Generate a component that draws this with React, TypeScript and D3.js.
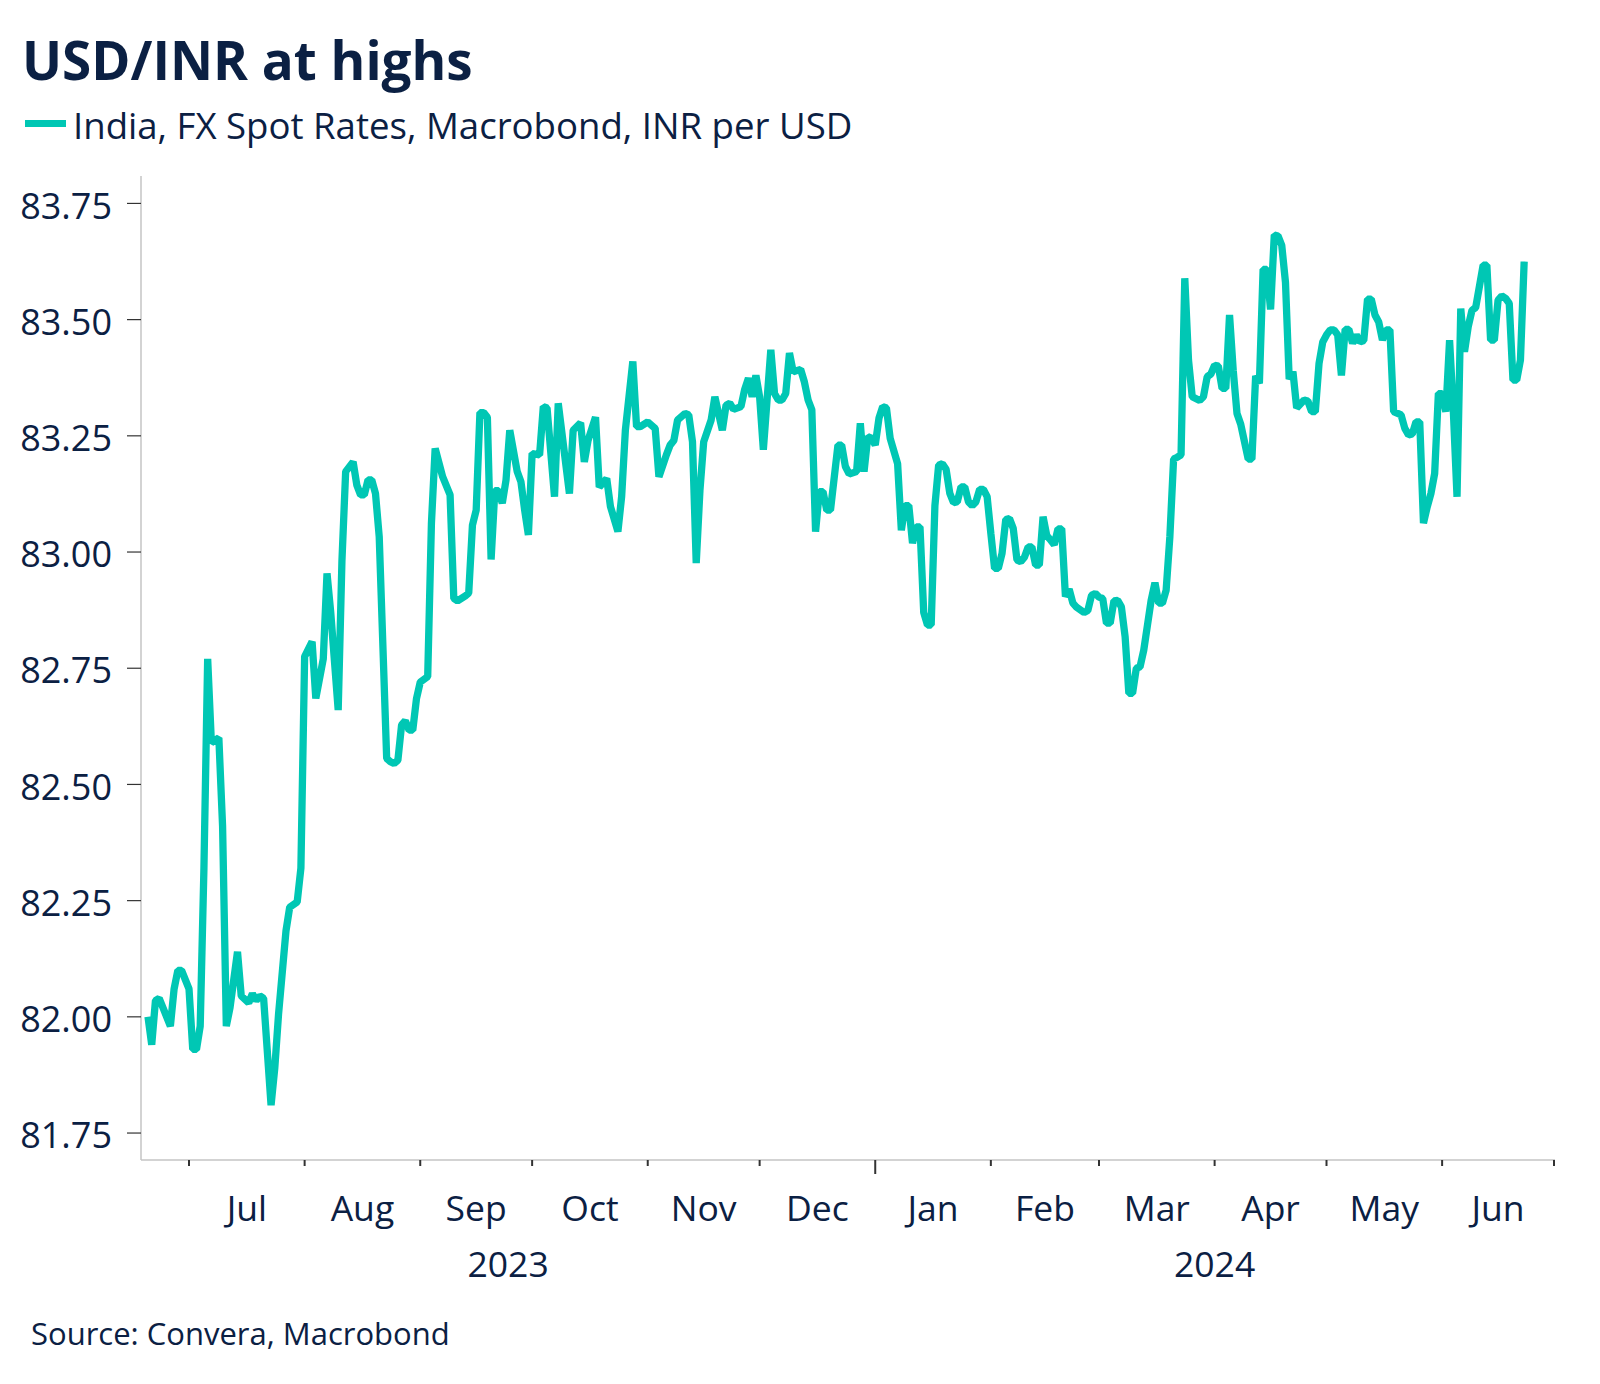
import React from "react";
import * as d3 from "d3";

const TITLE = "USD/INR at highs";
const LEGEND = "India, FX Spot Rates, Macrobond, INR per USD";
const SOURCE = "Source: Convera, Macrobond";
const yTicks = [81.75, 82.0, 82.25, 82.5, 82.75, 83.0, 83.25, 83.5, 83.75];
const yearLabels = ["2023", "2024"];

const dates = [
  "2023-06-20","2023-06-21","2023-06-22","2023-06-23","2023-06-26","2023-06-27","2023-06-28","2023-06-29",
  "2023-07-01","2023-07-02","2023-07-03","2023-07-04","2023-07-05","2023-07-06","2023-07-07","2023-07-09",
  "2023-07-10","2023-07-11","2023-07-12","2023-07-14","2023-07-15","2023-07-17","2023-07-18","2023-07-19",
  "2023-07-20","2023-07-21","2023-07-23","2023-07-24","2023-07-25","2023-07-27","2023-07-28","2023-07-30",
  "2023-07-31","2023-08-01","2023-08-03","2023-08-04","2023-08-06","2023-08-07","2023-08-08","2023-08-10",
  "2023-08-11","2023-08-12","2023-08-14","2023-08-15","2023-08-16","2023-08-17","2023-08-18","2023-08-19",
  "2023-08-20","2023-08-21","2023-08-23","2023-08-24","2023-08-25","2023-08-26","2023-08-27","2023-08-28",
  "2023-08-29","2023-08-30","2023-08-31","2023-09-01","2023-09-03","2023-09-04","2023-09-05","2023-09-07",
  "2023-09-09","2023-09-10","2023-09-11","2023-09-13","2023-09-14","2023-09-15","2023-09-16","2023-09-17",
  "2023-09-18","2023-09-19","2023-09-20","2023-09-21","2023-09-22","2023-09-23","2023-09-24","2023-09-25",
  "2023-09-27","2023-09-28","2023-09-29","2023-09-30","2023-10-01","2023-10-03","2023-10-04","2023-10-05",
  "2023-10-07","2023-10-08","2023-10-11","2023-10-12","2023-10-14","2023-10-15","2023-10-16","2023-10-18",
  "2023-10-19","2023-10-21","2023-10-22","2023-10-24","2023-10-25","2023-10-26","2023-10-28","2023-10-29",
  "2023-10-30","2023-11-01","2023-11-02","2023-11-03","2023-11-04","2023-11-06","2023-11-07","2023-11-08",
  "2023-11-09","2023-11-11","2023-11-12","2023-11-13","2023-11-14","2023-11-15","2023-11-16","2023-11-18",
  "2023-11-19","2023-11-21","2023-11-22","2023-11-23","2023-11-24","2023-11-26","2023-11-27","2023-11-28",
  "2023-11-29","2023-11-30","2023-12-01","2023-12-02","2023-12-04","2023-12-05","2023-12-06","2023-12-07",
  "2023-12-08","2023-12-09","2023-12-10","2023-12-12","2023-12-13","2023-12-14","2023-12-15","2023-12-16",
  "2023-12-17","2023-12-18","2023-12-19","2023-12-20","2023-12-22","2023-12-23","2023-12-24","2023-12-25",
  "2023-12-27","2023-12-28","2023-12-29","2023-12-30","2023-12-31","2024-01-01","2024-01-02","2024-01-03",
  "2024-01-04","2024-01-05","2024-01-07","2024-01-08","2024-01-09","2024-01-10","2024-01-11","2024-01-12",
  "2024-01-13","2024-01-14","2024-01-15","2024-01-16","2024-01-17","2024-01-18","2024-01-19","2024-01-20",
  "2024-01-21","2024-01-22","2024-01-23","2024-01-24","2024-01-25","2024-01-26","2024-01-27","2024-01-28",
  "2024-01-29","2024-01-30","2024-01-31","2024-02-01","2024-02-02","2024-02-03","2024-02-04","2024-02-05",
  "2024-02-06","2024-02-07","2024-02-08","2024-02-09","2024-02-10","2024-02-11","2024-02-12","2024-02-13",
  "2024-02-14","2024-02-15","2024-02-16","2024-02-17","2024-02-18","2024-02-19","2024-02-20","2024-02-21",
  "2024-02-22","2024-02-23","2024-02-24","2024-02-26","2024-02-27","2024-02-28","2024-02-29","2024-03-01",
  "2024-03-02","2024-03-03","2024-03-04","2024-03-05","2024-03-06","2024-03-07","2024-03-08","2024-03-09",
  "2024-03-10","2024-03-11","2024-03-12","2024-03-13","2024-03-14","2024-03-15","2024-03-16","2024-03-17",
  "2024-03-18","2024-03-19","2024-03-20","2024-03-21","2024-03-22","2024-03-23","2024-03-24","2024-03-25",
  "2024-03-26","2024-03-28","2024-03-29","2024-03-30","2024-03-31","2024-04-01","2024-04-02","2024-04-03",
  "2024-04-04","2024-04-05","2024-04-06","2024-04-07","2024-04-08","2024-04-10","2024-04-11","2024-04-12",
  "2024-04-13","2024-04-14","2024-04-15","2024-04-16","2024-04-17","2024-04-18","2024-04-19","2024-04-20",
  "2024-04-21","2024-04-22","2024-04-23","2024-04-25","2024-04-26","2024-04-27","2024-04-28","2024-04-29",
  "2024-04-30","2024-05-01","2024-05-02","2024-05-03","2024-05-04","2024-05-05","2024-05-06","2024-05-07",
  "2024-05-08","2024-05-09","2024-05-10","2024-05-11","2024-05-12","2024-05-13","2024-05-14","2024-05-15",
  "2024-05-16","2024-05-17","2024-05-18","2024-05-19","2024-05-21","2024-05-22","2024-05-23","2024-05-24",
  "2024-05-25","2024-05-26","2024-05-27","2024-05-28","2024-05-29","2024-05-30","2024-05-31","2024-06-01",
  "2024-06-02","2024-06-03","2024-06-04","2024-06-05","2024-06-06","2024-06-07","2024-06-08","2024-06-09",
  "2024-06-10","2024-06-12","2024-06-13","2024-06-14","2024-06-15","2024-06-16","2024-06-17","2024-06-18",
  "2024-06-19","2024-06-20","2024-06-21","2024-06-22","2024-06-23"
];

const rates = [
  82.00,81.94,82.035,82.04,81.98,82.06,82.10,82.10,
  82.06,81.93,81.93,81.98,82.32,82.77,82.59,82.60,
  82.41,81.98,82.02,82.14,82.045,82.03,82.05,82.035,
  82.045,82.04,81.81,81.89,82.005,82.185,82.236,82.247,
  82.32,82.775,82.807,82.685,82.77,82.954,82.87,82.66,
  82.98,83.173,83.194,83.144,83.123,83.123,83.155,83.155,
  83.126,83.033,82.556,82.549,82.545,82.552,82.628,82.637,
  82.617,82.617,82.685,82.72,82.732,83.062,83.223,83.162,
  83.123,82.90,82.895,82.905,82.912,83.058,83.09,83.30,
  83.30,83.29,82.984,83.132,83.132,83.105,83.155,83.262,
  83.173,83.151,83.09,83.037,83.212,83.209,83.313,83.31,
  83.119,83.32,83.126,83.262,83.278,83.194,83.24,83.29,
  83.14,83.158,83.098,83.044,83.119,83.262,83.41,83.27,
  83.27,83.28,83.273,83.266,83.162,83.209,83.23,83.24,
  83.284,83.298,83.295,83.237,82.976,83.133,83.237,83.284,
  83.334,83.262,83.316,83.32,83.307,83.313,83.35,83.374,
  83.334,83.38,83.334,83.22,83.435,83.341,83.327,83.327,
  83.341,83.428,83.388,83.393,83.366,83.327,83.306,83.044,
  83.13,83.13,83.09,83.09,83.23,83.23,83.184,83.168,
  83.173,83.277,83.173,83.248,83.245,83.23,83.288,83.313,
  83.31,83.245,83.19,83.047,83.10,83.10,83.019,83.054,
  83.054,82.87,82.843,82.843,83.10,83.187,83.19,83.178,
  83.126,83.106,83.108,83.14,83.14,83.108,83.10,83.108,
  83.135,83.135,83.119,83.04,82.965,82.965,82.997,83.07,
  83.072,83.051,82.983,82.979,82.989,83.011,83.011,82.972,
  82.972,83.076,83.035,83.026,83.016,83.05,83.05,82.904,
  82.92,82.89,82.881,82.87,82.874,82.907,82.911,82.903,
  82.90,82.847,82.847,82.895,82.896,82.882,82.818,82.696,
  82.696,82.75,82.753,82.789,82.843,82.897,82.934,82.89,
  82.89,82.918,83.033,83.20,83.204,83.209,83.589,83.413,
  83.334,83.326,83.334,83.377,83.383,83.402,83.40,83.352,
  83.352,83.51,83.39,83.298,83.275,83.20,83.20,83.379,
  83.363,83.608,83.608,83.522,83.682,83.68,83.66,83.58,
  83.372,83.388,83.31,83.327,83.325,83.302,83.302,83.406,
  83.452,83.467,83.478,83.478,83.467,83.38,83.479,83.479,
  83.449,83.467,83.452,83.455,83.544,83.544,83.51,83.495,
  83.456,83.478,83.478,83.302,83.295,83.266,83.252,83.254,
  83.28,83.28,83.062,83.097,83.126,83.169,83.341,83.341,
  83.302,83.456,83.305,83.119,83.524,83.431,83.485,83.52,
  83.526,83.617,83.617,83.456,83.456,83.542,83.551,83.546,
  83.535,83.37,83.37,83.413,83.625
];

const NAVY = "#0b2043";
const TEAL = "#00c7b4";
const FONT = "'Open Sans', 'Noto Sans', sans-serif";

export default function App() {
  const parse = d3.timeParse("%Y-%m-%d");
  const data = dates.map((d, i) => ({ date: parse(d) as Date, value: rates[i] }));

  const xStart = new Date(2023, 5, 18, 3);
  const xEnd = new Date(2024, 6, 1);
  const x = d3.scaleTime().domain([xStart, xEnd]).range([141, 1554]);
  const y = d3.scaleLinear().domain([81.692, 83.809]).range([1160, 176]);

  const line = d3
    .line<{ date: Date; value: number }>()
    .x((d) => x(d.date))
    .y((d) => y(d.value));

  const monthTicks = d3.timeMonth.range(new Date(2023, 6, 1), new Date(2024, 6, 2));
  const monthLabels = monthTicks.slice(0, -1).map((m, i) => ({
    label: d3.timeFormat("%b")(m),
    cx: (x(m) + x(monthTicks[i + 1])) / 2,
  }));
  const yearBoundary = new Date(2024, 0, 1);
  const yearPos = [
    (x(xStart) + x(yearBoundary)) / 2,
    (x(yearBoundary) + x(xEnd)) / 2,
  ];

  return (
    <svg
      width={1600}
      height={1384}
      style={{ position: "absolute", left: 0, top: 0, background: "#fff" }}
      fontFamily={FONT}
    >
      <rect x={0} y={0} width={1600} height={1384} fill="#fff" />
      <text x={22} y={80} fontSize={53} fontWeight={700} fill={NAVY}>
        {TITLE}
      </text>
      <rect x={25} y={120} width={41} height={7} fill={TEAL} />
      <text x={73} y={139} fontSize={36.6} fill={NAVY}>
        {LEGEND}
      </text>

      {/* axes */}
      <line x1={141} x2={141} y1={176} y2={1160} stroke="#c4c4c4" strokeWidth={1.5} />
      <line x1={141} x2={1555} y1={1160} y2={1160} stroke="#c4c4c4" strokeWidth={1.5} />

      {yTicks.map((t) => (
        <g key={t}>
          <line x1={127} x2={141} y1={y(t)} y2={y(t)} stroke="#333" strokeWidth={1.2} />
          <text x={112} y={y(t)} dy="0.42em" textAnchor="end" fontSize={36} fill={NAVY}>
            {t.toFixed(2)}
          </text>
        </g>
      ))}

      {monthTicks.map((m) => {
        const isYear = m.getMonth() === 0;
        return (
          <line
            key={m.toISOString()}
            x1={x(m)}
            x2={x(m)}
            y1={1160}
            y2={isYear ? 1174 : 1166}
            stroke="#333"
            strokeWidth={2}
          />
        );
      })}

      {monthLabels.map((m) => (
        <text key={m.label} x={m.cx} y={1221} textAnchor="middle" fontSize={35.5} fill={NAVY}>
          {m.label}
        </text>
      ))}
      {yearLabels.map((yl, i) => (
        <text key={yl} x={yearPos[i]} y={1277} textAnchor="middle" fontSize={35.5} fill={NAVY}>
          {yl}
        </text>
      ))}

      <path
        d={line(data) || ""}
        fill="none"
        stroke={TEAL}
        strokeWidth={7.3}
        strokeLinejoin="bevel"
      />

      <text x={31} y={1345} fontSize={31} fill={NAVY}>
        {SOURCE}
      </text>
    </svg>
  );
}
